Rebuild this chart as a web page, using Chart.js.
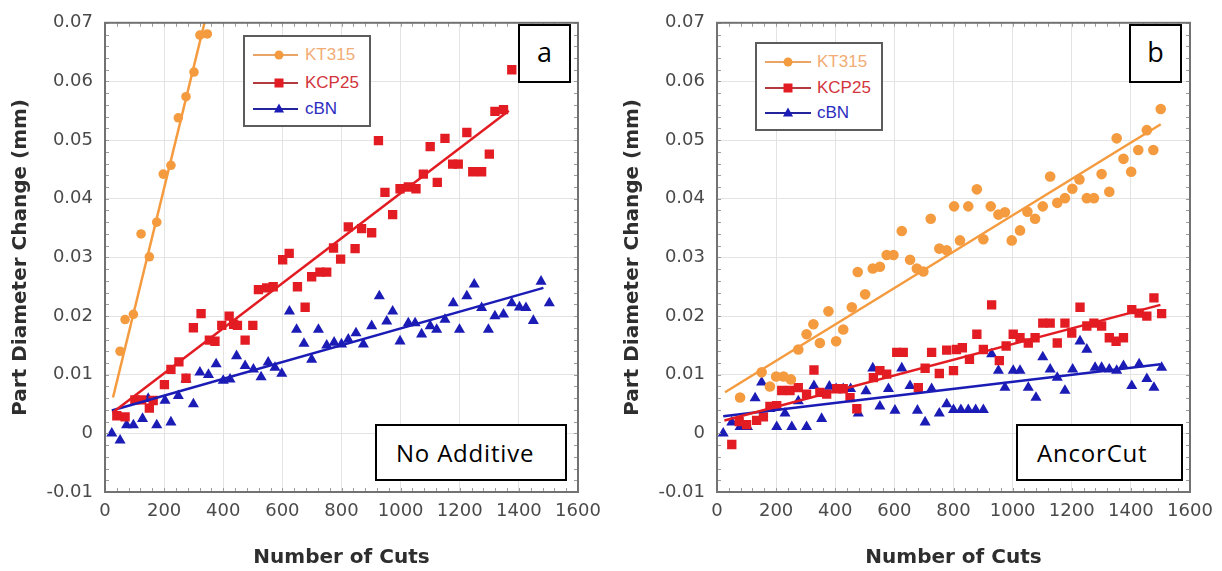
<!DOCTYPE html>
<html><head><meta charset="utf-8">
<script src="https://cdn.jsdelivr.net/npm/chart.js@4.4.1/dist/chart.umd.min.js"></script>
<style>
html,body{margin:0;padding:0;background:#fff;width:1222px;height:571px;overflow:hidden;position:relative}
.panel{position:absolute;top:0;width:611px;height:571px}
.lg{position:absolute;border:2px solid #5c5c5c;background:#fff;box-sizing:border-box}
.lg svg{position:absolute;left:0;top:0}
.lgt{position:absolute;font-family:"Liberation Sans",Arial,sans-serif;font-size:17px;line-height:20px;white-space:nowrap}
.tag{position:absolute;border:2px solid #000;background:#fff;box-sizing:border-box}
.tag span{position:absolute;font-family:"Open Sans",sans-serif;color:#000;white-space:nowrap}
</style></head><body>
<div class="panel" style="left:0"><canvas id="cA" width="611" height="571"></canvas></div>
<div class="panel" style="left:612px"><canvas id="cB" width="611" height="571"></canvas></div>

<div class="tag" style="left:518px;top:24px;width:53px;height:59px"><span style="left:0;width:49px;text-align:center;top:13px;font-size:27px;line-height:26px">a</span></div>
<div class="tag" style="left:1129px;top:24px;width:53px;height:59px"><span style="left:0;width:49px;text-align:center;top:13px;font-size:27px;line-height:26px">b</span></div>
<div class="tag" style="left:375px;top:424px;width:192px;height:57px"><span style="left:19px;top:15px;font-size:24px;line-height:24px;letter-spacing:0.8px">No Additive</span></div>
<div class="tag" style="left:1016px;top:424px;width:167px;height:57px"><span style="left:19px;top:15px;font-size:24px;line-height:24px;letter-spacing:0.8px">AncorCut</span></div>

<div class="lg" id="lgA" style="left:243px;top:35px;width:128px;height:92px"></div>
<div class="lg" id="lgB" style="left:755px;top:42px;width:128px;height:89px"></div>

<script>
// ---------- tick labels ----------
const X_TICKS = [0, 200, 400, 600, 800, 1000, 1200, 1400, 1600];
const Y_TICKS = [-0.01, 0, 0.01, 0.02, 0.03, 0.04, 0.05, 0.06, 0.07];
const SERIES = ['KT315', 'KCP25', 'cBN'];
const X_TITLE = 'Number of Cuts';
const Y_TITLE = 'Part Diameter Change (mm)';

// ---------- panel a: No Additive ----------
const aKT315 = [[51,0.0140],[68,0.0194],[96,0.0203],[122,0.0340],[150,0.0301],[175,0.0360],[197,0.0442],[223,0.0457],[248,0.0538],[274,0.0574],[301,0.0616],[321,0.0679],[346,0.0681]];
const aKT315Fit = [[27,0.0061],[338,0.0703]];
const aKCP25 = [[40,0.0030],[68,0.0028],[101,0.0057],[124,0.0057],[150,0.0043],[163,0.0056],[201,0.0083],[223,0.0109],[250,0.0122],[274,0.0094],[299,0.0180],[325,0.0204],[353,0.0159],[372,0.0157],[395,0.0184],[420,0.0200],[435,0.0186],[448,0.0184],[474,0.0159],[500,0.0184],[519,0.0245],[547,0.0248],[569,0.0250],[601,0.0296],[623,0.0307],[651,0.0250],[677,0.0215],[699,0.0267],[727,0.0275],[750,0.0275],[773,0.0316],[797,0.0297],[823,0.0352],[846,0.0315],[868,0.0349],[902,0.0342],[925,0.0499],[947,0.0411],[973,0.0373],[998,0.0417],[1026,0.0420],[1052,0.0417],[1077,0.0442],[1100,0.0489],[1124,0.0428],[1150,0.0503],[1176,0.0459],[1195,0.0459],[1224,0.0513],[1244,0.0446],[1274,0.0446],[1300,0.0476],[1319,0.0549],[1348,0.0552],[1376,0.0620]];
const aKCP25Fit = [[25,0.0035],[1366,0.0550]];
const acBN = [[23,0.0000],[51,-0.0012],[73,0.0014],[96,0.0014],[127,0.0025],[146,0.0059],[175,0.0014],[203,0.0056],[223,0.0019],[248,0.0064],[274,0.0092],[299,0.0050],[321,0.0104],[350,0.0100],[376,0.0118],[400,0.0090],[423,0.0092],[445,0.0132],[474,0.0115],[502,0.0109],[528,0.0096],[552,0.0121],[575,0.0112],[598,0.0102],[624,0.0208],[648,0.0177],[673,0.0153],[699,0.0126],[722,0.0177],[750,0.0150],[775,0.0155],[800,0.0152],[823,0.0160],[849,0.0171],[874,0.0152],[902,0.0183],[928,0.0234],[953,0.0191],[973,0.0208],[998,0.0157],[1026,0.0188],[1049,0.0188],[1071,0.0169],[1100,0.0183],[1122,0.0177],[1150,0.0194],[1178,0.0222],[1199,0.0177],[1224,0.0234],[1249,0.0254],[1274,0.0214],[1297,0.0177],[1319,0.0200],[1348,0.0203],[1376,0.0222],[1402,0.0215],[1424,0.0214],[1449,0.0192],[1475,0.0259],[1503,0.0222]];
const acBNFit = [[23,0.0039],[1483,0.0248]];

// ---------- panel b: AncorCut ----------
const bKT315 = [[78,0.0061],[151,0.0104],[179,0.0080],[200,0.0097],[225,0.0097],[250,0.0092],[275,0.0143],[303,0.0169],[326,0.0186],[348,0.0154],[377,0.0208],[403,0.0157],[427,0.0177],[456,0.0215],[476,0.0275],[501,0.0237],[527,0.0281],[551,0.0284],[574,0.0304],[597,0.0304],[625,0.0345],[653,0.0296],[676,0.0281],[698,0.0276],[723,0.0366],[752,0.0315],[777,0.0312],[802,0.0387],[822,0.0329],[850,0.0387],[879,0.0416],[901,0.0331],[926,0.0387],[952,0.0373],[974,0.0377],[997,0.0329],[1025,0.0346],[1050,0.0378],[1076,0.0366],[1102,0.0387],[1127,0.0438],[1151,0.0393],[1177,0.0401],[1202,0.0417],[1226,0.0433],[1251,0.0401],[1275,0.0401],[1301,0.0442],[1327,0.0412],[1352,0.0503],[1375,0.0468],[1401,0.0446],[1425,0.0483],[1454,0.0517],[1476,0.0483],[1501,0.0553]];
const bKT315Fit = [[27,0.0070],[1501,0.0527]];
const bKCP25 = [[50,-0.0019],[75,0.0020],[100,0.0015],[134,0.0022],[157,0.0028],[179,0.0046],[202,0.0047],[219,0.0073],[247,0.0073],[275,0.0078],[303,0.0067],[328,0.0108],[348,0.0070],[371,0.0067],[405,0.0076],[427,0.0076],[450,0.0061],[473,0.0042],[529,0.0095],[551,0.0107],[574,0.0101],[608,0.0138],[630,0.0138],[681,0.0078],[704,0.0111],[726,0.0138],[752,0.0102],[777,0.0142],[800,0.0107],[810,0.0143],[830,0.0146],[854,0.0126],[879,0.0169],[901,0.0143],[929,0.0219],[955,0.0124],[978,0.0149],[1002,0.0169],[1025,0.0163],[1053,0.0154],[1076,0.0163],[1102,0.0188],[1127,0.0188],[1151,0.0154],[1177,0.0188],[1200,0.0171],[1228,0.0215],[1251,0.0183],[1275,0.0188],[1301,0.0183],[1327,0.0163],[1350,0.0157],[1375,0.0163],[1403,0.0211],[1428,0.0205],[1454,0.0200],[1478,0.0231],[1504,0.0204]];
const bKCP25Fit = [[25,0.0022],[1500,0.0219]];
const bcBN = [[21,0.0000],[50,0.0019],[78,0.0011],[103,0.0011],[129,0.0060],[151,0.0087],[179,0.0042],[202,0.0011],[230,0.0034],[253,0.0011],[275,0.0055],[303,0.0011],[328,0.0081],[354,0.0025],[380,0.0080],[403,0.0076],[427,0.0076],[452,0.0076],[478,0.0034],[504,0.0072],[527,0.0111],[551,0.0046],[580,0.0076],[602,0.0039],[625,0.0111],[653,0.0081],[678,0.0039],[704,0.0019],[726,0.0076],[752,0.0034],[777,0.0050],[800,0.0040],[825,0.0040],[850,0.0040],[875,0.0040],[901,0.0040],[929,0.0135],[952,0.0107],[974,0.0078],[1002,0.0107],[1025,0.0107],[1053,0.0078],[1079,0.0061],[1102,0.0130],[1127,0.0109],[1151,0.0095],[1177,0.0073],[1203,0.0109],[1228,0.0157],[1251,0.0143],[1279,0.0112],[1301,0.0112],[1327,0.0109],[1352,0.0107],[1375,0.0115],[1403,0.0081],[1428,0.0118],[1454,0.0093],[1478,0.0078],[1504,0.0112]];
const bcBNFit = [[21,0.0029],[1500,0.0118]];

// ---------- styles ----------
const COL = { KT315: '#F59B3F', KCP25: '#E21C22', cBN: '#1B1BB6' };
const LEG_LINE = { KT315: '#E8A566', KCP25: '#B23A3E', cBN: '#24249E' };
const LEG_TEXT = { KT315: '#F2AC74', KCP25: '#D2343C', cBN: '#2C2CC0' };
const PT = { KT315: ['circle', 4.8], KCP25: ['rect', 6.6], cBN: ['triangle', 6.4] };

const toXY = arr => arr.map(p => ({ x: p[0], y: p[1] }));

const framePlugin = {
  id: 'frame',
  afterDatasetsDraw(chart) {
    const { ctx, chartArea: a, scales: { x, y } } = chart;
    ctx.save();
    ctx.strokeStyle = '#9c9c9c'; ctx.lineWidth = 1;
    ctx.beginPath();
    const xs = (X_TICKS[1] - X_TICKS[0]) / 5;
    for (let i = 0; X_TICKS[0] + i * xs <= X_TICKS[X_TICKS.length - 1] + 1e-9; i++) {
      const px = Math.round(x.getPixelForValue(X_TICKS[0] + i * xs)) + 0.5;
      ctx.moveTo(px, a.top); ctx.lineTo(px, a.top + 4);
      ctx.moveTo(px, a.bottom); ctx.lineTo(px, a.bottom - 4);
    }
    const ys = (Y_TICKS[1] - Y_TICKS[0]) / 5;
    for (let i = 0; Y_TICKS[0] + i * ys <= Y_TICKS[Y_TICKS.length - 1] + 1e-9; i++) {
      const py = Math.round(y.getPixelForValue(Y_TICKS[0] + i * ys)) + 0.5;
      ctx.moveTo(a.left, py); ctx.lineTo(a.left + 4, py);
      ctx.moveTo(a.right, py); ctx.lineTo(a.right - 4, py);
    }
    ctx.stroke();
    ctx.strokeStyle = '#727272'; ctx.lineWidth = 2;
    ctx.strokeRect(a.left, a.top, a.width, a.height);
    ctx.restore();
  }
};

function makeChart(id, sets, circleR) {
  const datasets = [];
  SERIES.forEach(name => {
    datasets.push({
      type: 'line', data: toXY(sets[name + 'Fit']), borderColor: COL[name],
      borderWidth: 2.5, pointRadius: 0, fill: false, tension: 0
    });
  });
  SERIES.forEach(name => {
    datasets.push({
      type: 'scatter', data: toXY(sets[name]), showLine: false,
      pointStyle: PT[name][0], pointRadius: name === 'KT315' ? circleR : PT[name][1],
      backgroundColor: COL[name], borderColor: COL[name], borderWidth: 0
    });
  });
  const tickFont = { family: '"DejaVu Sans", sans-serif', size: 18 };
  const titleFont = { family: '"DejaVu Sans", sans-serif', size: 20, weight: 'bold' };
  return new Chart(document.getElementById(id), {
    type: 'scatter',
    data: { datasets },
    options: {
      responsive: false, animation: false, devicePixelRatio: 1,
      layout: { padding: { top: 19, right: 33, left: 0, bottom: 0 } },
      plugins: { legend: { display: false }, tooltip: { enabled: false } },
      scales: {
        x: {
          type: 'linear', min: X_TICKS[0], max: X_TICKS[X_TICKS.length - 1],
          afterBuildTicks: s => { s.ticks = X_TICKS.map(v => ({ value: v })); },
          afterFit: s => { s.height = 79; },
          ticks: { font: tickFont, color: '#4a4a4a', padding: 9, maxRotation: 0, autoSkip: false,
                   callback: v => String(v) },
          grid: { color: '#e3e3e3', drawTicks: false, lineWidth: 1 },
          border: { display: false },
          title: { display: true, text: X_TITLE, font: titleFont, color: '#2e2e2e', padding: { top: 0, bottom: 1 } }
        },
        y: {
          type: 'linear', min: Y_TICKS[0], max: Y_TICKS[Y_TICKS.length - 1],
          afterBuildTicks: s => { s.ticks = Y_TICKS.map(v => ({ value: v })); },
          afterFit: s => { s.width = 105; },
          ticks: { font: tickFont, color: '#4a4a4a', padding: 12, autoSkip: false,
                   callback: v => { const r = Math.round(v * 100) / 100; return r === 0 ? '0' : r.toFixed(2); } },
          grid: { color: '#e3e3e3', drawTicks: false, lineWidth: 1 },
          border: { display: false },
          title: { display: true, text: Y_TITLE, font: titleFont, color: '#2e2e2e', padding: { top: 9, bottom: 0 } }
        }
      }
    },
    plugins: [framePlugin]
  });
}

makeChart('cA', { KT315: aKT315, KT315Fit: aKT315Fit, KCP25: aKCP25, KCP25Fit: aKCP25Fit, cBN: acBN, cBNFit: acBNFit }, 4.8);
makeChart('cB', { KT315: bKT315, KT315Fit: bKT315Fit, KCP25: bKCP25, KCP25Fit: bKCP25Fit, cBN: bcBN, cBNFit: bcBNFit }, 5.3);

// ---------- legends ----------
function marker(name, cx, cy) {
  const c = COL[name];
  if (PT[name][0] === 'circle') return `<circle cx="${cx}" cy="${cy}" r="4.5" fill="${c}"/>`;
  if (PT[name][0] === 'rect') return `<rect x="${cx - 4.5}" y="${cy - 4.5}" width="9" height="9" fill="${c}"/>`;
  return `<polygon points="${cx},${cy - 5.5} ${cx + 5},${cy + 3.5} ${cx - 5},${cy + 3.5}" fill="${c}"/>`;
}
function buildLegend(id, rows, x1, x2, mx, tx) {
  const el = document.getElementById(id);
  let svg = `<svg width="124" height="90">`;
  let html = '';
  SERIES.forEach((name, i) => {
    const y = rows[i];
    svg += `<line x1="${x1}" y1="${y}" x2="${x2}" y2="${y}" stroke="${LEG_LINE[name]}" stroke-width="2"/>` + marker(name, mx, y);
    html += `<span class="lgt" style="left:${tx}px;top:${y - 10}px;color:${LEG_TEXT[name]}">${name}</span>`;
  });
  svg += '</svg>';
  el.innerHTML = svg + html;
}
buildLegend('lgA', [18, 46, 72], 8, 53, 34, 60);
buildLegend('lgB', [18, 44, 69], 8, 54, 31, 60);
</script>
</body></html>
